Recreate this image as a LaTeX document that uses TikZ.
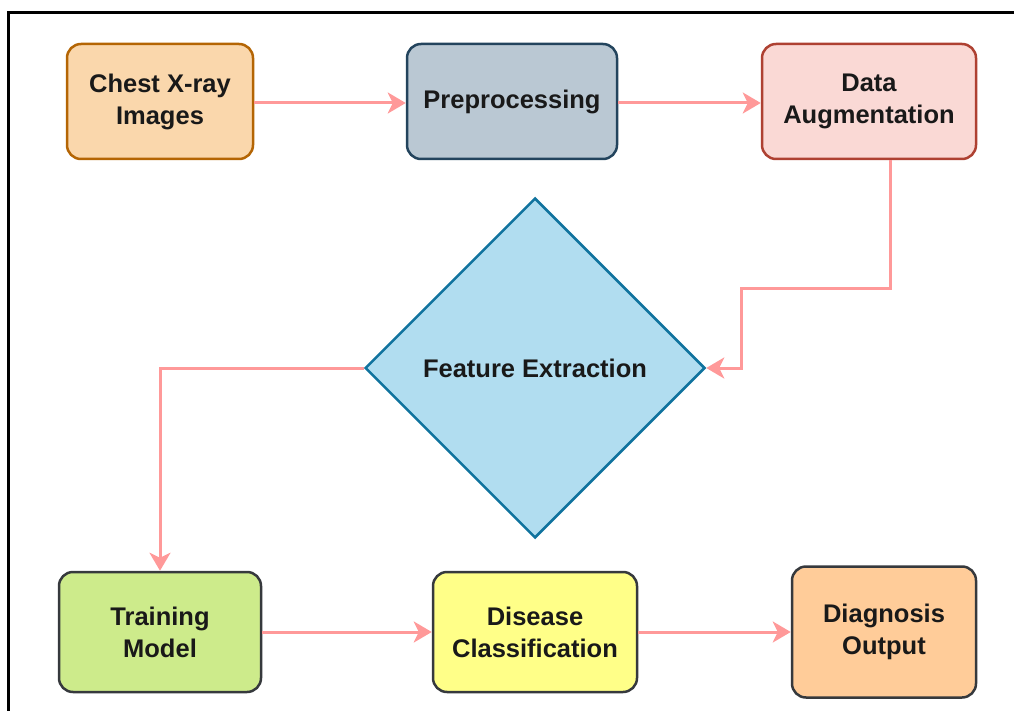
\documentclass[tikz,border=0pt]{standalone}
\usepackage{fontspec}
\setmainfont{Liberation Sans}
\usetikzlibrary{arrows.meta,shapes.geometric}
\definecolor{fOrange}{HTML}{FAD7AC}\definecolor{sOrange}{HTML}{B46504}
\definecolor{fGray}{HTML}{BAC8D3}\definecolor{sGray}{HTML}{23445D}
\definecolor{fRed}{HTML}{FAD9D5}\definecolor{sRed}{HTML}{AE4132}
\definecolor{fBlue}{HTML}{B1DDF0}\definecolor{sBlue}{HTML}{10739E}
\definecolor{fGreen}{HTML}{CDEB8B}\definecolor{sDark}{HTML}{36393D}
\definecolor{fYellow}{HTML}{FFFF88}\definecolor{fPeach}{HTML}{FFCC99}
\definecolor{arrowPink}{HTML}{FF9999}
\begin{document}
\begin{tikzpicture}[x=1pt,y=-1pt,
  lbl/.style={font=\fontsize{25.5}{32}\selectfont\bfseries, text=black!90},
  box/.style={lbl, rounded corners=14pt, line width=2.5pt, align=center, inner sep=0pt},
  arr/.style={draw=arrowPink, line width=3pt, -{Stealth[length=18pt,width=21pt,inset=5pt]}}]
\useasboundingbox (0,0) rectangle (1014,711);
\draw[line width=3pt] (8,730) -- (8,13) -- (1030,13);
\node[box, fill=fOrange, draw=sOrange, minimum width=186pt, minimum height=115pt] (CX) at (160,101.5) {Chest X-ray\\Images};
\node[box, fill=fGray, draw=sGray, minimum width=210pt, minimum height=115pt] (PP) at (512,101.5) {Preprocessing};
\node[box, fill=fRed, draw=sRed, minimum width=214pt, minimum height=115pt] (DA) at (869,101.5) {Data\\Augmentation};
\node[diamond, aspect=1, fill=fBlue, draw=sBlue, line width=2.5pt, minimum width=340pt, minimum height=340pt, inner sep=0pt, lbl] (FE) at (535,368) {Feature Extraction};
\node[box, fill=fGreen, draw=sDark, minimum width=202pt, minimum height=120pt] (TM) at (160,632) {Training\\Model};
\node[box, fill=fYellow, draw=sDark, minimum width=204pt, minimum height=120pt] (DC) at (535,632) {Disease\\Classification};
\node[box, fill=fPeach, draw=sDark, minimum width=184pt, minimum height=131pt] (DO) at (884,632) {Diagnosis\\Output};
\coordinate (k1) at (890,288);
\coordinate (k2) at (741,288);
\draw[arr] ([yshift=-1.5pt]CX.east) -- ([yshift=-1.5pt]PP.west);
\draw[arr] ([yshift=-1.5pt]PP.east) -- ([yshift=-1.5pt]DA.west);
\draw[arr] (DA.south -| k1) -- (k1) -- (k2) |- (FE.east);
\draw[arr] (FE.west) -| (TM.north);
\draw[arr] (TM.east) -- (DC.west);
\draw[arr] (DC.east) -- (DO.west);
\end{tikzpicture}
\end{document}
